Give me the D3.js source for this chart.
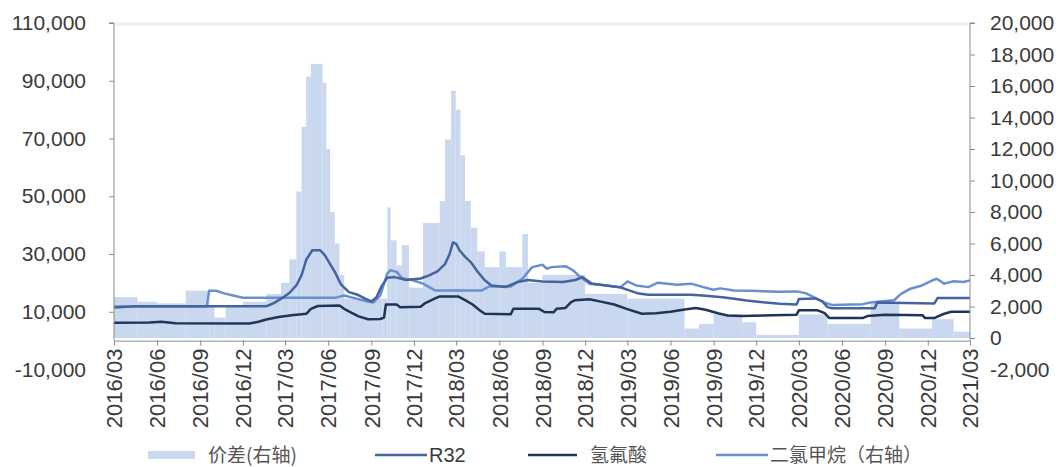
<!DOCTYPE html>
<html>
<head>
<meta charset="utf-8">
<script src="https://cdn.jsdelivr.net/npm/d3@7"></script>
<style>
  html, body { margin: 0; padding: 0; background: #fff; }
  svg { display: block; }
  text { font-family: "Liberation Sans", Arial, sans-serif; }
</style>
</head>
<body>
<svg id="chart" width="1061" height="467"></svg>
<script>
// Axis tick labels
const xTickLabels = ["2016/03","2016/06","2016/09","2016/12","2017/03","2017/06","2017/09","2017/12",
  "2018/03","2018/06","2018/09","2018/12","2019/03","2019/06","2019/09","2019/12",
  "2020/03","2020/06","2020/09","2020/12","2021/03"];
const leftTicks = [-10000, 10000, 30000, 50000, 70000, 90000, 110000];
const rightTicks = [-2000, 0, 2000, 4000, 6000, 8000, 10000, 12000, 14000, 16000, 18000, 20000];

// 价差 (right axis), step values starting at each date
const spreadDates = ["2016-03-01","2016-04-20","2016-06-01","2016-08-01","2016-09-20","2016-10-01","2016-10-25",
  "2016-12-01","2017-01-20","2017-02-20","2017-03-10","2017-03-25","2017-04-05","2017-04-15","2017-04-25",
  "2017-05-20","2017-05-28","2017-06-05","2017-06-15","2017-06-25","2017-07-05","2017-09-25","2017-10-05",
  "2017-10-12","2017-10-25","2017-11-05","2017-11-20","2017-12-20","2018-01-25","2018-02-05","2018-02-18",
  "2018-02-28","2018-03-10","2018-03-20","2018-04-01","2018-04-15","2018-05-01","2018-06-01","2018-06-15",
  "2018-07-20","2018-08-01","2018-09-01","2018-12-01","2019-03-01","2019-07-01","2019-08-01","2019-09-01",
  "2019-11-01","2019-12-01","2020-03-01","2020-05-01","2020-08-01","2020-10-01","2020-12-10","2021-01-25",
  "2021-03-01"];
const spreadValues = [2600,2300,2200,3000,2000,1300,2000,
  2300,2800,3500,5000,9300,13400,16600,17400,
  16200,12000,8000,6000,4000,2500,2500,8300,
  6200,4600,5900,3200,7300,8700,12600,15700,
  14500,11600,8700,7000,5500,4500,5500,4500,
  6600,3500,4000,2800,2500,600,900,1500,
  1000,200,1500,900,2200,600,1200,400,
  400];

// R32 (left axis)
const r32Dates = ["2016-03-01","2016-04-15","2017-01-20","2017-02-05","2017-02-25","2017-03-10","2017-03-25",
  "2017-04-05","2017-04-15","2017-04-28","2017-05-15","2017-05-25","2017-06-05","2017-06-15","2017-06-28",
  "2017-07-15","2017-08-01","2017-08-20","2017-09-01","2017-09-12","2017-09-22","2017-10-05","2017-10-20",
  "2017-11-15","2017-12-15","2018-01-01","2018-01-20","2018-02-05","2018-02-15","2018-02-22","2018-03-01",
  "2018-03-08","2018-03-20","2018-04-01","2018-04-15","2018-05-01","2018-05-15","2018-06-15","2018-07-10",
  "2018-08-01","2018-09-01","2018-10-15","2018-11-10","2018-11-25","2018-12-15","2019-01-15","2019-02-15",
  "2019-03-05","2019-03-25","2019-04-15","2019-07-15","2019-08-15","2019-09-20","2019-10-15","2019-11-10",
  "2019-12-15","2020-01-20","2020-02-25","2020-03-01","2020-04-05","2020-04-20","2020-05-01","2020-05-10",
  "2020-08-10","2020-08-15","2020-12-15","2020-12-22","2021-03-01"];
const r32Values = [11500,11900,11900,13000,15000,16500,19100,
  22600,28000,31300,31300,29500,26500,23800,19500,
  16800,16000,14500,13500,15000,18600,21800,22000,
  21000,21500,22500,24000,26500,30000,34000,33500,
  31300,29000,27200,24000,20900,19100,18600,20300,
  21000,20500,20300,21000,22000,19800,19100,18400,
  17400,16300,15900,15900,15500,15000,14500,13900,
  13300,12800,12500,14400,14600,13600,11600,11200,
  11200,13200,12900,14800,14800];

// 氢氟酸 (left axis)
const hfDates = ["2016-03-01","2016-05-15","2016-06-10","2016-07-10","2016-12-15","2017-01-05","2017-01-20",
  "2017-02-15","2017-03-15","2017-04-15","2017-04-25","2017-05-10","2017-06-25","2017-07-05","2017-07-20",
  "2017-08-05","2017-08-25","2017-09-20","2017-09-28","2017-10-02","2017-10-25","2017-11-01","2017-12-15",
  "2017-12-25","2018-01-15","2018-01-25","2018-03-05","2018-03-20","2018-04-05","2018-04-20","2018-05-01",
  "2018-06-25","2018-07-01","2018-08-25","2018-09-05","2018-09-25","2018-10-01","2018-10-20","2018-11-01",
  "2018-11-10","2018-12-10","2019-01-01","2019-02-01","2019-03-01","2019-04-01","2019-05-01","2019-06-01",
  "2019-07-01","2019-07-25","2019-08-15","2019-09-10","2019-10-01","2019-11-01","2020-02-25","2020-03-01",
  "2020-04-10","2020-04-25","2020-05-05","2020-07-15","2020-07-25","2020-09-01","2020-11-20","2020-11-25",
  "2020-12-15","2020-12-25","2021-01-05","2021-01-20","2021-03-01"];
const hfValues = [6200,6300,6500,6000,5900,6600,7300,
  8150,8800,9300,11000,12000,12200,11000,9700,
  8400,7400,7500,8000,12500,12500,11600,11700,
  13000,14600,15300,15300,14000,12500,10500,9300,
  9100,11000,11000,9900,9800,11000,11300,13300,
  14000,14300,13600,12500,10900,9300,9500,10000,
  10800,11300,10700,9500,8700,8500,9000,10500,
  10500,9500,7800,7800,8500,9000,8800,7800,
  7800,8600,9300,10000,10000];

// 二氯甲烷 (right axis)
const dcmDates = ["2016-03-01","2016-09-15","2016-09-20","2016-10-05","2016-10-20","2016-11-10","2016-12-01",
  "2017-06-15","2017-07-05","2017-07-25","2017-08-20","2017-09-05","2017-09-20","2017-10-05","2017-10-12",
  "2017-10-25","2017-11-05","2017-11-25","2017-12-20","2018-01-15","2018-04-25","2018-05-10","2018-06-25",
  "2018-07-20","2018-08-10","2018-09-01","2018-09-10","2018-09-20","2018-10-20","2018-11-05","2018-11-20",
  "2018-12-10","2019-01-15","2019-02-15","2019-03-01","2019-03-20","2019-04-15","2019-05-05","2019-06-15",
  "2019-07-15","2019-08-10","2019-09-01","2019-09-15","2019-10-15","2019-11-20","2020-01-15","2020-02-25",
  "2020-03-15","2020-04-05","2020-04-25","2020-05-10","2020-07-15","2020-08-01","2020-09-01","2020-09-20",
  "2020-10-05","2020-10-25","2020-11-15","2020-12-10","2020-12-20","2021-01-05","2021-01-25","2021-02-15",
  "2021-03-01"];
const dcmValues = [2000,2000,3000,3000,2850,2700,2550,
  2550,2700,2550,2350,2250,2700,4100,4300,
  4200,3800,3700,3450,3020,3020,3270,3270,
  3760,4500,4650,4400,4500,4560,4300,3900,
  3450,3340,3230,3590,3340,3230,3510,3380,
  3450,3230,3060,3150,3020,3000,2930,2960,
  2850,2550,2250,2100,2150,2250,2350,2400,
  2800,3130,3300,3650,3760,3450,3600,3560,
  3660];

const parse = d3.timeParse("%Y-%m-%d");
const toPoints = (dates, values) => dates.map((d, i) => ({ date: parse(d), value: values[i] }));

const spread = toPoints(spreadDates, spreadValues);
const r32 = toPoints(r32Dates, r32Values);
const hf = toPoints(hfDates, hfValues);
const dcm = toPoints(dcmDates, dcmValues);

const svg = d3.select("#chart");
const plot = { left: 114, right: 970, top: 23, bottom: 369.5 };

const x = d3.scaleTime()
  .domain([parse("2016-03-01"), parse("2021-03-01")])
  .range([plot.left, plot.right]);
const yL = d3.scaleLinear().domain([-10000, 110000]).range([plot.bottom, plot.top]);
const yR = d3.scaleLinear().domain([-2000, 20000]).range([plot.bottom, plot.top]);

const colors = {
  spread: "#c9d8ee",
  r32: "#45649f",
  hf: "#1f3558",
  dcm: "#6a8fd0",
  axis: "#8c8c8c",
  text: "#3a3a3a"
};

// faint top border of the plot
svg.append("line")
  .attr("x1", plot.left).attr("x2", plot.right)
  .attr("y1", plot.top + 1).attr("y2", plot.top + 1)
  .attr("stroke", "#f0f0f0").attr("stroke-width", 3);

// 价差 bars
svg.append("g").selectAll("rect")
  .data(spread.slice(0, -1))
  .join("rect")
  .attr("x", (d) => x(d.date))
  .attr("width", (d, i) => x(spread[i + 1].date) - x(d.date))
  .attr("y", (d) => yR(d.value))
  .attr("height", (d) => yR(0) - yR(d.value))
  .attr("fill", colors.spread);

// price lines
const lineL = d3.line().x((d) => x(d.date)).y((d) => yL(d.value));
const lineR = d3.line().x((d) => x(d.date)).y((d) => yR(d.value));

svg.append("path").datum(dcm).attr("d", lineR)
  .attr("fill", "none").attr("stroke", colors.dcm).attr("stroke-width", 2.5).attr("stroke-linejoin", "round");
svg.append("path").datum(r32).attr("d", lineL)
  .attr("fill", "none").attr("stroke", colors.r32).attr("stroke-width", 2.5).attr("stroke-linejoin", "round");
svg.append("path").datum(hf).attr("d", lineL)
  .attr("fill", "none").attr("stroke", colors.hf).attr("stroke-width", 2.5).attr("stroke-linejoin", "round");

// axes
const comma = d3.format(",");
const fmt = (d) => comma(d).replace("\u2212", "-");
const styleAxis = (g, size) => {
  g.select(".domain").attr("stroke", colors.axis);
  g.selectAll(".tick line").attr("stroke", colors.axis);
  g.selectAll(".tick text").attr("fill", colors.text).style("font-size", size + "px")
    .style("font-family", "'Liberation Sans', Arial, sans-serif");
};

const leftAxis = svg.append("g")
  .attr("transform", `translate(${plot.left},0)`)
  .call(d3.axisLeft(yL).tickValues(leftTicks).tickFormat(fmt).tickSize(5).tickPadding(23).tickSizeOuter(0))
  .call(styleAxis, 21);
leftAxis.select(".domain").attr("d", `M-5,${plot.top}H0V${yL(0)}`);

const rightAxis = svg.append("g")
  .attr("transform", `translate(${plot.right},0)`)
  .call(d3.axisRight(yR).tickValues(rightTicks).tickFormat(fmt).tickSize(5).tickPadding(15).tickSizeOuter(0))
  .call(styleAxis, 21);
rightAxis.select(".domain").attr("d", `M5,${plot.top}H0V${yL(0)}`);

const xTickDates = xTickLabels.map((s) => d3.timeParse("%Y/%m")(s));
const xAxis = svg.append("g")
  .attr("transform", `translate(0,${yL(0)})`)
  .call(d3.axisBottom(x).tickValues(xTickDates).tickFormat((d, i) => xTickLabels[i]).tickSize(5).tickSizeOuter(0))
  .call(styleAxis, 22);
xAxis.selectAll(".tick text")
  .attr("text-anchor", "end")
  .attr("transform", "rotate(-90)")
  .attr("x", -8)
  .attr("y", 0)
  .attr("dy", "0.35em");

// legend
const legend = svg.append("g").attr("transform", "translate(0,455)");
const cjk = "'Noto Sans CJK SC', 'Noto Sans', sans-serif";
legend.append("rect").attr("x", 148).attr("y", -4).attr("width", 47).attr("height", 8).attr("fill", colors.spread);
legend.append("text").attr("x", 208).attr("dy", "0.35em").text("价差(右轴)")
  .style("font-family", cjk).style("font-size", "19px").attr("fill", "#555");

legend.append("line").attr("x1", 375).attr("x2", 427).attr("stroke", colors.r32).attr("stroke-width", 2.5);
legend.append("text").attr("x", 429).attr("dy", "0.35em").text("R32")
  .style("font-size", "20px").attr("fill", colors.text);

legend.append("line").attr("x1", 528).attr("x2", 577).attr("stroke", colors.hf).attr("stroke-width", 2.5);
legend.append("text").attr("x", 590).attr("dy", "0.35em").text("氢氟酸")
  .style("font-family", cjk).style("font-size", "19px").attr("fill", "#555");

legend.append("line").attr("x1", 716).attr("x2", 768).attr("stroke", colors.dcm).attr("stroke-width", 2.5);
legend.append("text").attr("x", 770).attr("dy", "0.35em").text("二氯甲烷（右轴）")
  .style("font-family", cjk).style("font-size", "19px").attr("fill", "#555");
</script>
</body>
</html>
